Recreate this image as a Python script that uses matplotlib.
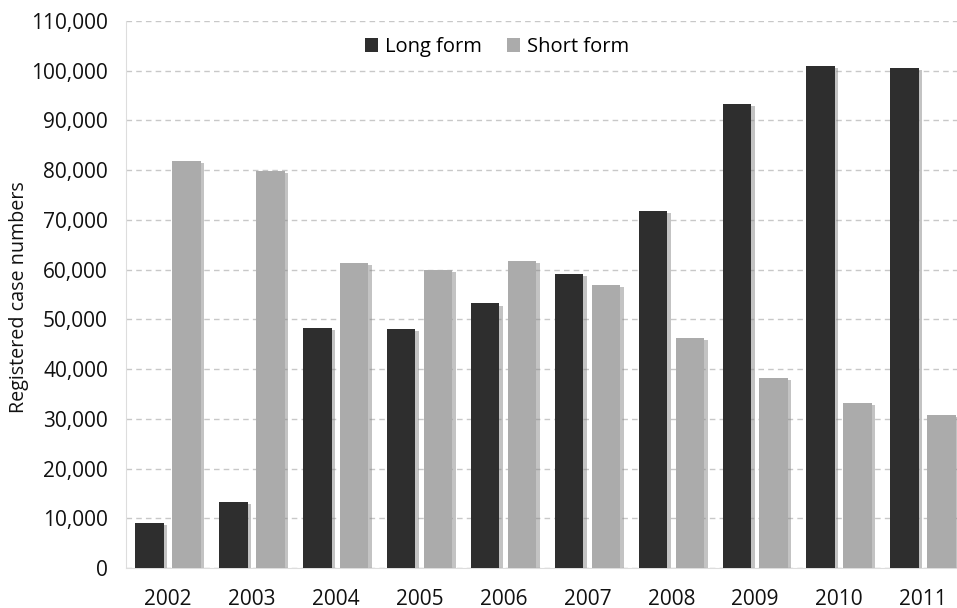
import matplotlib
matplotlib.use("Agg")
import matplotlib.pyplot as plt
import matplotlib.patheffects as pe
from matplotlib.patches import Patch
import numpy as np
from matplotlib.ticker import FuncFormatter, MultipleLocator

years = ["2002", "2003", "2004", "2005", "2006", "2007", "2008", "2009", "2010", "2011"]
long_form = [9000, 13300, 48300, 48000, 53200, 59200, 71800, 93400, 101000, 100500]
short_form = [81800, 79900, 61300, 60000, 61700, 57000, 46300, 38300, 33200, 30700]

plt.rcParams['font.family'] = ['Open Sans', 'DejaVu Sans']

fig = plt.figure(figsize=(9.57, 6.08), dpi=100)
ax = fig.add_axes([126/957, 40/608, 839/957, 547/608])

c_long = '#2e2e2e'
c_short = '#ababab'
x = np.arange(len(years))
w = 0.34
off = 0.22
shadow = [pe.SimplePatchShadow(offset=(2.5, -1.5), shadow_rgbFace='#888888', alpha=0.5), pe.Normal()]
ax.bar(x - off, long_form, w, color=c_long, zorder=3, path_effects=shadow)
ax.bar(x + off, short_form, w, color=c_short, zorder=3, path_effects=shadow)

ax.set_xlim(-0.5, len(years) - 0.5)
ax.set_ylim(0, 110000)
ax.yaxis.set_major_locator(MultipleLocator(10000))
ax.yaxis.set_major_formatter(FuncFormatter(lambda v, p: f"{int(v):,}"))
ax.set_xticks(x)
ax.set_xticklabels(years)
ax.tick_params(axis='both', length=0, labelsize=15, colors='#111111')
ax.tick_params(axis='x', pad=15)
ax.tick_params(axis='y', pad=13)
ax.yaxis.grid(True, linestyle=(0, (4, 3)), color='#c8c8c8', linewidth=1, zorder=0)
ax.set_axisbelow(True)
for s in ['top', 'right']:
    ax.spines[s].set_visible(False)
ax.spines['left'].set_color('#dddddd')
ax.spines['bottom'].set_color('#dddddd')
ax.set_ylabel('Registered case numbers', fontsize=14.2, color='#111111')
ax.yaxis.set_label_coords((29 - 126) / 839, 0.495)

handles = [Patch(facecolor=c_long, label='Long form'), Patch(facecolor=c_short, label='Short form')]
ax.legend(handles=handles, loc='center', bbox_to_anchor=((497 - 126) / 839, 1 - (47 - 21) / 547), ncol=2,
          frameon=False, fontsize=14.5, handlelength=0.65, handleheight=0.65, handletextpad=0.35,
          columnspacing=1.25, borderpad=0)

fig.savefig('out.png', dpi=100)
